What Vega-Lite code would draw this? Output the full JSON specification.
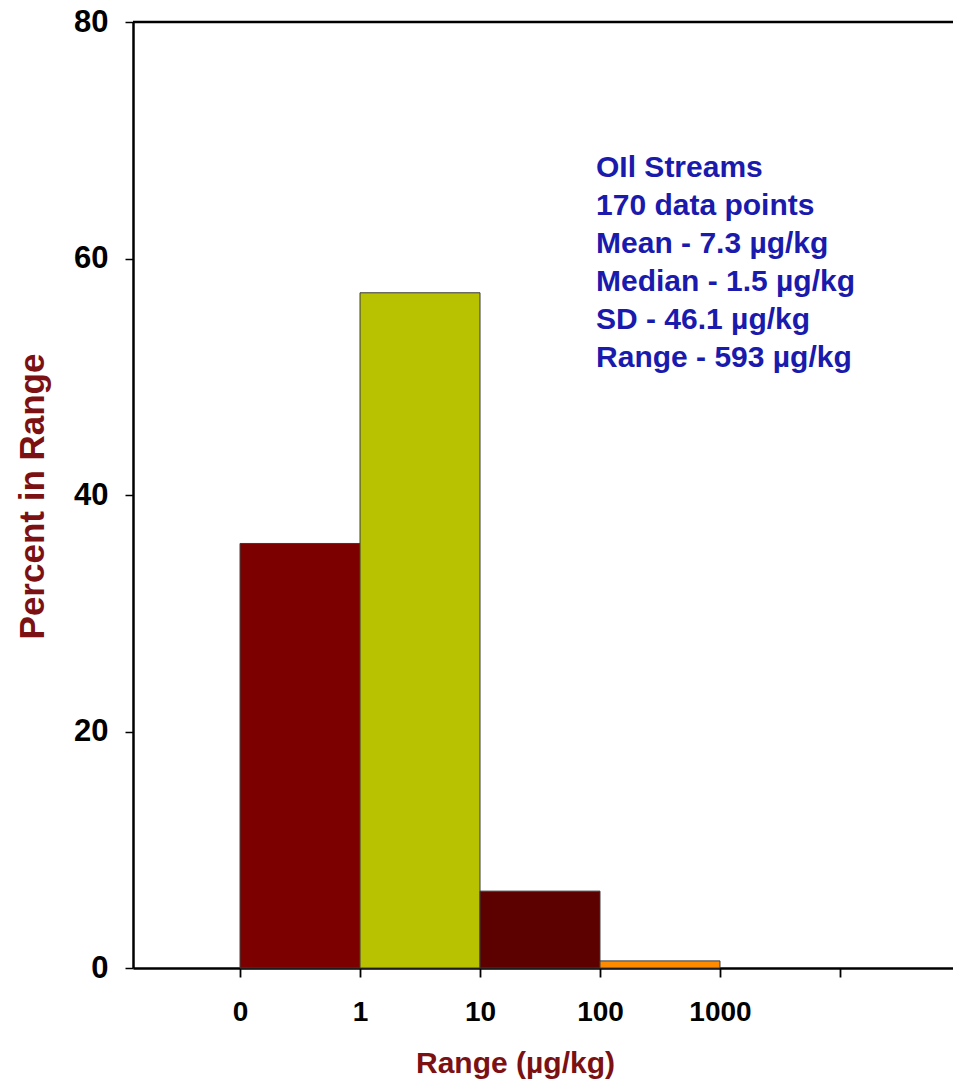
{
  "$schema": "https://vega.github.io/schema/vega-lite/v6.json",
  "autosize": "none",
  "width": 820,
  "height": 946,
  "padding": {"left": 133, "top": 22, "right": 0, "bottom": 122},
  "background": "white",
  "config": {
    "view": {"stroke": null},
    "font": "Liberation Sans, Arial, sans-serif"
  },
  "datasets": {
    "bins": [
      {"bin": "0-1", "lo": 0, "hi": 1, "pct": 35.9},
      {"bin": "1-10", "lo": 1, "hi": 2, "pct": 57.1},
      {"bin": "10-100", "lo": 2, "hi": 3, "pct": 6.5},
      {"bin": "100-1000", "lo": 3, "hi": 4, "pct": 0.6}
    ],
    "stats": [
      {"label": ["OIl Streams", "170 data points", "Mean - 7.3 µg/kg", "Median - 1.5 µg/kg", "SD - 46.1 µg/kg", "Range - 593 µg/kg"]}
    ]
  },
  "layer": [
    {
      "data": {"name": "bins"},
      "mark": {"type": "bar", "stroke": "#3a3a3a", "strokeWidth": 1},
      "encoding": {
        "x": {
          "field": "lo",
          "type": "quantitative",
          "scale": {"domain": [-0.892, 5.942], "nice": false, "zero": false},
          "axis": {
            "values": [0, 1, 2, 3, 4, 5],
            "labelExpr": "datum.value == 0 ? '0' : (datum.value < 5 ? format(pow(10, datum.value - 1), 'd') : '')",
            "grid": false,
            "domainColor": "black",
            "domainWidth": 2.5,
            "tickColor": "black",
            "tickWidth": 1.8,
            "tickSize": 9,
            "labelFont": "Liberation Sans, Arial, sans-serif",
            "labelFontSize": 28,
            "labelFontWeight": "bold",
            "labelColor": "black",
            "labelBaseline": "alphabetic",
            "labelPadding": 43,
            "labelFlush": false,
            "labelOverlap": false,
            "title": "Range (µg/kg)",
            "titleFont": "Liberation Sans, Arial, sans-serif",
            "titleFontSize": 30,
            "titleFontWeight": "bold",
            "titleColor": "#7b1113",
            "titleX": 382,
            "titleY": 104,
            "titleAlign": "center",
            "titleBaseline": "alphabetic"
          }
        },
        "x2": {"field": "hi"},
        "y": {
          "field": "pct",
          "type": "quantitative",
          "scale": {"domain": [0, 80], "nice": false},
          "axis": {
            "values": [0, 20, 40, 60, 80],
            "grid": false,
            "domainColor": "black",
            "domainWidth": 2.5,
            "tickColor": "black",
            "tickWidth": 1.5,
            "tickSize": 8,
            "labelFont": "Liberation Sans, Arial, sans-serif",
            "labelFontSize": 31,
            "labelFontWeight": "bold",
            "labelColor": "black",
            "labelPadding": 17,
            "labelFlush": false,
            "labelOverlap": false,
            "title": "Percent in Range",
            "titleFont": "Liberation Sans, Arial, sans-serif",
            "titleFontSize": 35,
            "titleFontWeight": "bold",
            "titleColor": "#7b1113",
            "titleX": -90,
            "titleY": 474,
            "titleAngle": -90,
            "titleAlign": "center",
            "titleBaseline": "alphabetic"
          }
        },
        "y2": {"datum": 0},
        "color": {
          "field": "bin",
          "type": "nominal",
          "scale": {
            "domain": ["0-1", "1-10", "10-100", "100-1000"],
            "range": ["#7d0000", "#b8c200", "#5c0000", "#ff8c00"]
          },
          "legend": null
        }
      }
    },
    {
      "data": {"values": [{}]},
      "mark": {"type": "rule", "color": "black", "strokeWidth": 2.5},
      "encoding": {"y": {"datum": 80, "type": "quantitative"}}
    },
    {
      "data": {"name": "stats"},
      "mark": {
        "type": "text",
        "align": "left",
        "baseline": "alphabetic",
        "font": "Liberation Sans, Arial, sans-serif",
        "fontSize": 30,
        "fontWeight": "bold",
        "color": "#1a1aad",
        "lineHeight": 38,
        "limit": 0
      },
      "encoding": {
        "x": {"datum": 2.967, "type": "quantitative"},
        "y": {"datum": 66.9, "type": "quantitative"},
        "text": {"field": "label"}
      }
    }
  ]
}
